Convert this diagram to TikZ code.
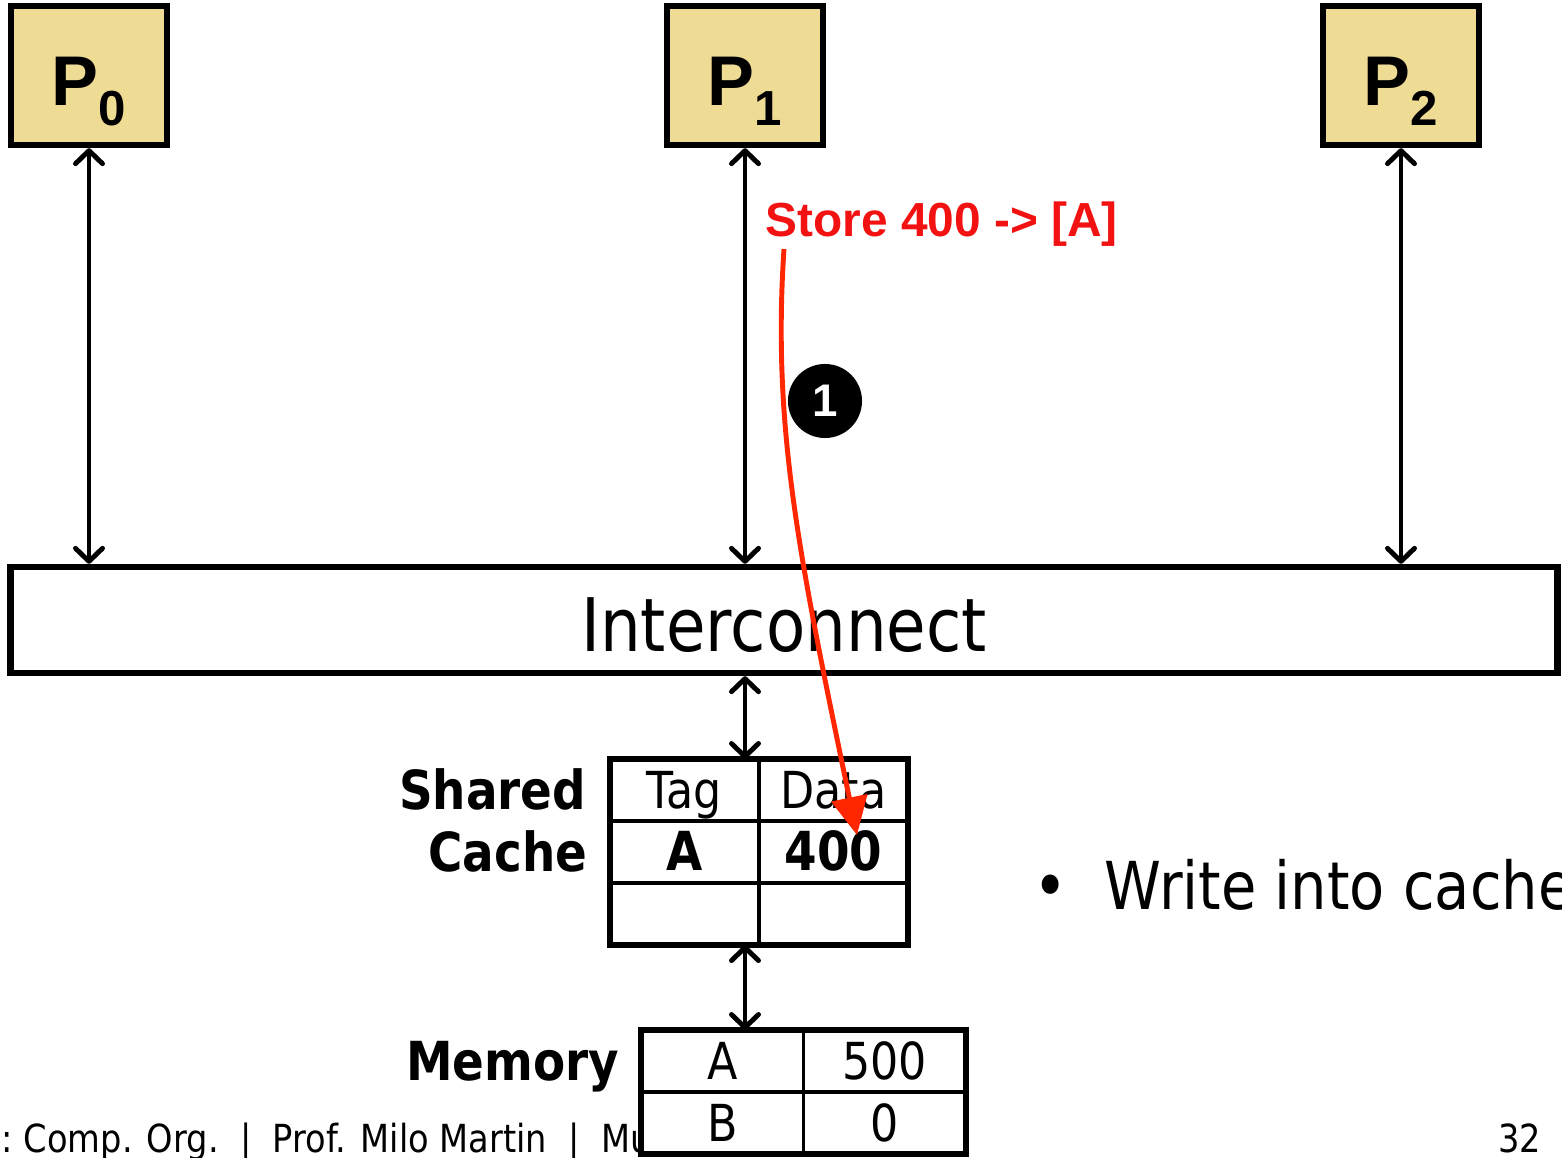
\documentclass[tikz,border=0pt]{standalone}
\usepackage{fontspec}
\setmainfont[FakeStretch=0.87]{DejaVu Sans}
\newfontfamily\arialfont{Liberation Sans}
\usetikzlibrary{arrows.meta, positioning}

\definecolor{procyellow}{RGB}{239,220,148}
\definecolor{storered}{RGB}{242,18,18}
\definecolor{flowred}{RGB}{255,38,0}

\newcommand{\procname}[1]{{\arialfont\bfseries\fontsize{20}{20}\selectfont P\raisebox{-5.7pt}{\fontsize{14}{14}\selectfont #1}}}

\tikzset{
  proc/.style={draw, line width=1.8pt, fill=procyellow, minimum width=1.56cm,
    minimum height=1.39cm, inner sep=0pt, text height=0.59cm, text depth=0pt},
  link/.style={line width=1.4pt,
    {Straight Barb[length=0.13cm,width=0.27cm,round]}-{Straight Barb[length=0.13cm,width=0.27cm,round]}},
  cell/.style={draw, line width=1.1pt, fill=white, inner sep=0pt, outer sep=0pt,
    text height=10.6pt, text depth=0pt, font=\fontsize{14.5}{14.5}\selectfont},
  ccell/.style={cell, minimum width=1.49cm, minimum height=0.62cm},
  mcell/.style={cell, minimum width=1.625cm, minimum height=0.62cm},
  sidelabel/.style={inner sep=0pt, text height=11pt, text depth=0pt,
    font=\bfseries\fontsize{15.3}{15.3}\selectfont},
  flow/.style={draw=flowred, line width=1.4pt, -{Triangle[length=0.38cm,width=0.36cm]}},
}

\begin{document}
\begin{tikzpicture}[x=0.01cm, y=-0.01cm]
  \useasboundingbox (0,0) rectangle (1562,1158);

  % processors
  \node[proc] (P0) at (89,75.5) {\procname{0}};
  \node[proc] (P1) at (745,75.5) {\procname{1}};
  \node[proc] (P2) at (1401,75.5) {\procname{2}};

  \node[draw, line width=1.8pt, minimum width=15.46cm, minimum height=1.06cm, inner sep=0pt,
    text height=0.62cm, text depth=0pt, font=\fontsize{21}{21}\selectfont] (icn) at (784,620) {Interconnect};

  \draw[link] (P0.south) -- (P0.south |- icn.north);
  \draw[link] (P1.south) -- (P1.south |- icn.north);
  \draw[link] (P2.south) -- (P2.south |- icn.north);

  % footer
  \node[anchor=base west, inner sep=0pt, font=\fontsize{11}{11}\selectfont] (foot) at (1,1153)
    {:\hspace{-1pt} Comp. Org.\ \ |\ \ Prof. Milo Martin\ \ |\ \ Mu};
  \node[anchor=base east, inner sep=0pt, font=\fontsize{11}{11}\selectfont] (pgnum) at (1542,1153) {32};

  % shared cache
  \node[ccell] (ctag) at (684.5,790) {Tag};
  \node[ccell, right=0pt of ctag] (cdata) {Data};
  \node[ccell, below=0pt of ctag, font=\bfseries\fontsize{15.3}{15.3}\selectfont] (ca) {A};
  \node[ccell, right=0pt of ca, font=\bfseries\fontsize{15.3}{15.3}\selectfont] (cval) {400};
  \node[ccell, below=0pt of ca] (cnil) {};
  \node[ccell, right=0pt of cnil] (cnil2) {};
  \draw[line width=1.8pt] (ctag.north west) rectangle (cnil2.south east);
  \node[sidelabel, left=0.23cm of ctag] (shared) {Shared};
  \node[sidelabel, left=0.22cm of ca] (cachelbl) {Cache};

  % memory
  \node[mcell] (mema) at (722.25,1061) {A};
  \node[mcell, right=0pt of mema] (memav) {500};
  \node[mcell, below=0pt of mema] (memb) {B};
  \node[mcell, right=0pt of memb] (membv) {0};
  \draw[line width=1.8pt] (mema.north west) rectangle (membv.south east);
  \node[sidelabel, left=0.21cm of mema] (memlbl) {Memory};

  \draw[link] (icn.south -| P1.south) -- (ctag.north -| P1.south);
  \draw[link] (cnil.south -| P1.south) -- (mema.north -| P1.south);

  % note
  \node[anchor=base west, inner sep=0pt, font=\fontsize{19}{19}\selectfont] (bul) at (1033,910) {•};
  \node[anchor=base west, inner sep=0pt, font=\fontsize{18.8}{18.8}\selectfont] (note) at (1104,910) {Write into cache};

  % the store
  \node[anchor=west, inner sep=0pt, text=storered, font=\arialfont\bfseries\fontsize{13.6}{13.6}\selectfont]
    (store) at (765,224) {Store 400 -> [A]};
  \node[circle, fill=black, minimum size=0.74cm, inner sep=0pt, text=white,
    font=\arialfont\bfseries\fontsize{13}{13}\selectfont] (step1) at (825,401) {1};
  \coordinate (flowstart) at (784,249);
  \coordinate (wrtip) at (857,835);
  \draw[flow] (flowstart) .. controls (772,430) and (800,560) .. (wrtip);
\end{tikzpicture}
\end{document}
